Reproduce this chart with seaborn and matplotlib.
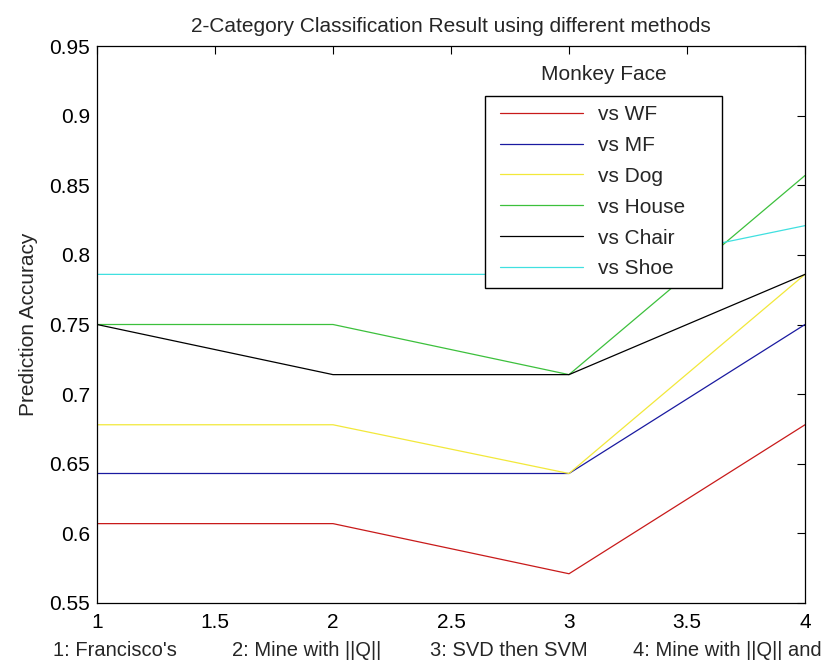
import matplotlib
matplotlib.use("Agg")
import matplotlib.pyplot as plt
from matplotlib.patches import Rectangle
import seaborn as sns
import pandas as pd

methods = [1, 2, 3, 4]
series_names = ["vs WF", "vs MF", "vs Dog", "vs House", "vs Chair", "vs Shoe"]
vs_wf = [0.607, 0.607, 0.571, 0.678]
vs_mf = [0.643, 0.643, 0.643, 0.750]
vs_dog = [0.678, 0.678, 0.643, 0.786]
vs_house = [0.750, 0.750, 0.714, 0.857]
vs_chair = [0.750, 0.714, 0.714, 0.786]
vs_shoe = [0.786, 0.786, 0.786, 0.821]
colors = ["#c81a1a", "#1a1aa0", "#f2e83a", "#3cc03c", "#000000", "#40e0e0"]
x_ticks = [1, 1.5, 2, 2.5, 3, 3.5, 4]
x_tick_labels = ["1", "1.5", "2", "2.5", "3", "3.5", "4"]
y_ticks = [0.55, 0.6, 0.65, 0.7, 0.75, 0.8, 0.85, 0.9, 0.95]
y_tick_labels = ["0.55", "0.6", "0.65", "0.7", "0.75", "0.8", "0.85", "0.9", "0.95"]
title = "2-Category Classification Result using different methods"
xlabel_parts = ["1: Francisco's", "2: Mine with ||Q||", "3: SVD then SVM",
                "4: Mine with ||Q|| and"]
ylabel = "Prediction Accuracy"
legend_title = "Monkey Face"

all_vals = [vs_wf, vs_mf, vs_dog, vs_house, vs_chair, vs_shoe]
rows = []
for name, vals in zip(series_names, all_vals):
    for m, v in zip(methods, vals):
        rows.append({"method": m, "acc": v, "series": name})
df = pd.DataFrame(rows)

sns.set_theme(style="white")
plt.rcParams["font.family"] = ["Liberation Sans", "DejaVu Sans"]

W, H = 830, 662
FS = 15
fig = plt.figure(figsize=(W / 100, H / 100), dpi=100)
ax_l, ax_r, ax_t, ax_b = 97, 805, 46, 603
ax = fig.add_axes([ax_l / W, 1 - ax_b / H, (ax_r - ax_l) / W, (ax_b - ax_t) / H])

sns.lineplot(data=df, x="method", y="acc", hue="series", hue_order=series_names,
             palette=colors, linewidth=0.9, ax=ax, legend=True)

ax.set_xlim(1, 4)
ax.set_ylim(0.55, 0.95)
ax.set_xticks(x_ticks)
ax.set_xticklabels(x_tick_labels)
ax.set_yticks(y_ticks)
ax.set_yticklabels(y_tick_labels)
ax.tick_params(axis="both", direction="in", length=6, width=0.8, labelsize=FS,
               top=True, right=True, colors="black")
ax.tick_params(axis="x", pad=7.5)
ax.tick_params(axis="y", pad=5)
for s in ax.spines.values():
    s.set_color("black")
    s.set_linewidth(0.9)
ax.set_title(title, fontsize=FS, pad=10)
ax.set_xlabel("")
ax.set_ylabel(ylabel, fontsize=FS, labelpad=8)

# x label pieces (one MATLAB xlabel string spread across the bottom)
part_pos = [(53, "left"), (232, "left"), (588, "right"), (822, "right")]
for txt, (px, ha) in zip(xlabel_parts, part_pos):
    fig.text(px / W, 1 - 651 / H, txt, ha=ha, va="center", fontsize=14.5)

handles, labels = ax.get_legend_handles_labels()
leg = ax.legend(handles, labels, loc="upper left",
                bbox_to_anchor=((500 - ax_l) / (ax_r - ax_l), (ax_b - 105) / (ax_b - ax_t)),
                fontsize=FS, frameon=False, handlelength=4.0, handletextpad=0.72,
                labelspacing=0.57, borderpad=0, borderaxespad=0)
ax.add_patch(Rectangle(((485 - ax_l) / (ax_r - ax_l), (ax_b - 288) / (ax_b - ax_t)),
                       237 / (ax_r - ax_l), 192 / (ax_b - ax_t), transform=ax.transAxes,
                       facecolor="white", edgecolor="black", linewidth=1.0, zorder=4))
leg.set_zorder(5)
ax.text((604 - ax_l) / (ax_r - ax_l), (ax_b - 75) / (ax_b - ax_t), legend_title,
        transform=ax.transAxes, ha="center", va="center", fontsize=FS, zorder=6)

fig.savefig("out.png", dpi=100, facecolor="white")
